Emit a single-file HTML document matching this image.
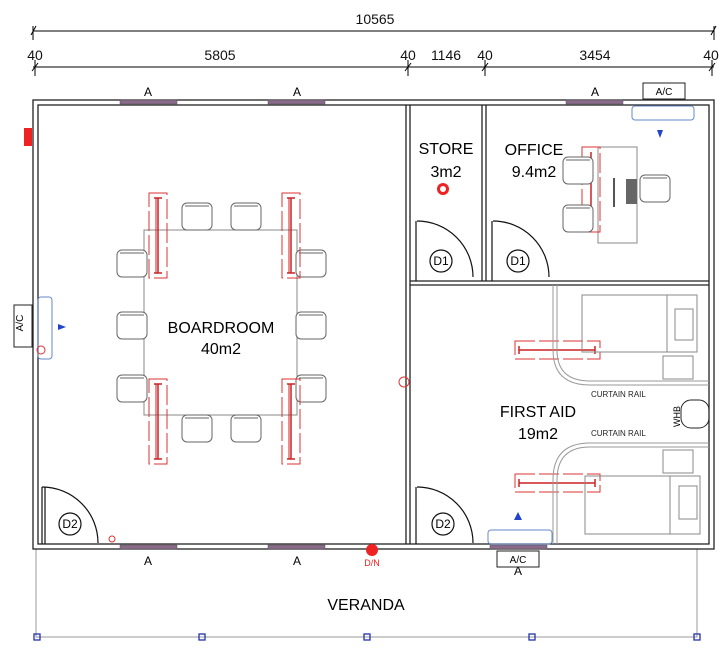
<!DOCTYPE html>
<html><head><meta charset="utf-8"><style>body{margin:0;background:#fff}svg{display:block}text{font-family:"Liberation Sans",sans-serif}</style></head><body>
<svg width="719" height="661" viewBox="0 0 719 661" xmlns="http://www.w3.org/2000/svg">
<defs>
<g id="chair"><rect x="0" y="0" width="30" height="27" rx="5" fill="#fff" stroke="#666" stroke-width="1"/><line x1="3" y1="3" x2="27" y2="3" stroke="#666"/></g>
<g id="redv"><rect x="0" y="0" width="18" height="85" fill="none" stroke="#d33" stroke-width="1" stroke-dasharray="20 4"/><line x1="9" y1="5" x2="9" y2="80" stroke="#c22" stroke-width="1.5"/><line x1="5" y1="5" x2="13" y2="5" stroke="#c22" stroke-width="1.5"/><line x1="5" y1="80" x2="13" y2="80" stroke="#c22" stroke-width="1.5"/><line x1="7" y1="5" x2="7" y2="80" stroke="#c22"/></g>
<g id="redh"><rect x="0" y="0" width="85" height="18" fill="none" stroke="#d33" stroke-width="1" stroke-dasharray="20 4"/><line x1="4" y1="9" x2="80" y2="9" stroke="#c22" stroke-width="1.5"/><line x1="4" y1="5" x2="4" y2="13" stroke="#c22" stroke-width="1.5"/><line x1="80" y1="5" x2="80" y2="13" stroke="#c22" stroke-width="1.5"/></g>
</defs>
<!-- dimensions -->
<g stroke="#000" stroke-width="1">
<line x1="33" y1="31" x2="714" y2="31"/><line x1="31" y1="35" x2="36" y2="26"/><line x1="711" y1="35" x2="716" y2="26"/><line x1="33" y1="26" x2="33" y2="40"/><line x1="714" y1="26" x2="714" y2="40"/>
<line x1="33" y1="67" x2="714" y2="67"/>
<line x1="35" y1="60" x2="35" y2="76"/><line x1="408" y1="60" x2="408" y2="76"/><line x1="485" y1="60" x2="485" y2="76"/><line x1="712" y1="60" x2="712" y2="76"/>
<line x1="32" y1="71" x2="38" y2="63"/><line x1="405" y1="71" x2="411" y2="63"/><line x1="482" y1="71" x2="488" y2="63"/><line x1="709" y1="71" x2="715" y2="63"/>
</g>
<g font-size="14" text-anchor="middle" fill="#111">
<text x="375" y="24">10565</text>
<text x="35" y="60">40</text><text x="220" y="60">5805</text><text x="408" y="60">40</text><text x="446" y="60">1146</text><text x="485" y="60">40</text><text x="595" y="60">3454</text><text x="711" y="60">40</text>
</g>
<!-- veranda -->
<rect x="36" y="549" width="661" height="88" fill="none" stroke="#999" stroke-width="1"/>
<g fill="none" stroke="#2233aa" stroke-width="1.3"><rect x="34" y="634" width="6" height="6"/><rect x="199" y="634" width="6" height="6"/><rect x="364" y="634" width="6" height="6"/><rect x="529" y="634" width="6" height="6"/><rect x="694" y="634" width="6" height="6"/></g>
<text x="366" y="610" font-size="16" text-anchor="middle">VERANDA</text>
<!-- walls -->
<g fill="none" stroke="#222" stroke-width="1.3">
<rect x="33" y="100" width="681" height="449"/><rect x="38" y="105" width="671" height="439"/>
<line x1="406" y1="105" x2="406" y2="544"/><line x1="410" y1="105" x2="410" y2="544"/>
<line x1="482" y1="105" x2="482" y2="281"/><line x1="486" y1="105" x2="486" y2="281"/>
<line x1="410" y1="281" x2="709" y2="281"/><line x1="410" y1="285" x2="709" y2="285"/>
</g>
<!-- windows -->
<g fill="#8a6a8a" stroke="#555" stroke-width="0.5">
<rect x="120" y="100" width="57" height="4"/><rect x="268" y="100" width="57" height="4"/><rect x="566" y="100" width="57" height="4"/>
<rect x="120" y="545" width="57" height="4"/><rect x="268" y="545" width="57" height="4"/><rect x="490" y="545" width="57" height="4"/>
</g>
<g font-size="12" text-anchor="middle"><text x="148" y="96">A</text><text x="297" y="96">A</text><text x="595" y="96">A</text><text x="148" y="565">A</text><text x="297" y="565">A</text><text x="518" y="575">A</text></g>
<!-- A/C units -->
<rect x="643" y="83" width="42" height="16" fill="#fff" stroke="#222"/><text x="664" y="95" font-size="10" text-anchor="middle">A/C</text>
<rect x="632" y="106" width="62" height="14" rx="3" fill="none" stroke="#6688cc"/>
<rect x="497" y="551" width="42" height="16" fill="#fff" stroke="#222"/><text x="518" y="563" font-size="10" text-anchor="middle">A/C</text>
<rect x="488" y="530" width="64" height="14" rx="3" fill="none" stroke="#6688cc"/>
<rect x="14" y="305" width="18" height="42" fill="#fff" stroke="#222"/><text x="26" y="326" font-size="10" text-anchor="middle" transform="rotate(-90 23 326)">A/C</text>
<rect x="38" y="297" width="14" height="62" rx="3" fill="none" stroke="#6688cc"/>
<g fill="#2244cc"><polygon points="58,324 66,327 58,330"/><polygon points="660,138 663,130 657,130" /><polygon points="518,512 514,520 522,520"/></g>
<rect x="24" y="128" width="8" height="18" fill="#e22"/>
<!-- boardroom -->
<rect x="144" y="230" width="153" height="185" fill="none" stroke="#888"/>
<use href="#chair" x="182" y="203"/><use href="#chair" x="231" y="203"/>
<use href="#chair" x="182" y="415"/><use href="#chair" x="231" y="415"/>
<use href="#chair" x="117" y="250"/><use href="#chair" x="117" y="312"/><use href="#chair" x="117" y="375"/>
<use href="#chair" x="296" y="250"/><use href="#chair" x="296" y="312"/><use href="#chair" x="296" y="375"/>
<use href="#redv" x="149" y="193"/><use href="#redv" x="282" y="193"/><use href="#redv" x="149" y="379"/><use href="#redv" x="282" y="379"/>
<text x="221" y="333" font-size="16" text-anchor="middle">BOARDROOM</text><text x="221" y="354" font-size="16" text-anchor="middle">40m2</text>
<!-- doors -->
<g fill="none" stroke="#111" stroke-width="1.2">
<path d="M42 487 A56 56 0 0 1 98 543"/><line x1="42" y1="487" x2="42" y2="544"/><line x1="45" y1="487" x2="45" y2="544"/>
<path d="M417 221 A56 56 0 0 1 473 277"/><line x1="416" y1="221" x2="416" y2="281"/>
<path d="M493 221 A56 56 0 0 1 549 277"/><line x1="492" y1="221" x2="492" y2="281"/>
<path d="M417 487 A56 56 0 0 1 473 543"/><line x1="416" y1="487" x2="416" y2="544"/>
<circle cx="70" cy="524" r="11"/><circle cx="441" cy="261" r="11"/><circle cx="518" cy="261" r="11"/><circle cx="443" cy="524" r="11"/>
</g>
<g font-size="12" text-anchor="middle"><text x="70" y="528">D2</text><text x="441" y="265">D1</text><text x="518" y="265">D1</text><text x="443" y="528">D2</text></g>
<!-- store/office -->
<g font-size="16" text-anchor="middle"><text x="446" y="154">STORE</text><text x="446" y="177">3m2</text><text x="534" y="155">OFFICE</text><text x="534" y="177">9.4m2</text></g>
<circle cx="443" cy="189" r="6" fill="#e22"/><circle cx="443" cy="189" r="3" fill="#fff"/>
<rect x="598" y="147" width="39" height="96" fill="none" stroke="#888"/>
<rect x="582" y="147" width="18" height="85" fill="none" stroke="#d33" stroke-dasharray="20 4"/><line x1="591" y1="152" x2="591" y2="227" stroke="#c22" stroke-width="1.5"/>
<use href="#chair" x="563" y="157" transform=""/><use href="#chair" x="563" y="205"/><use href="#chair" x="640" y="175"/>
<rect x="626" y="179" width="11" height="25" fill="#666"/><line x1="614" y1="178" x2="614" y2="207" stroke="#555" stroke-width="2"/>
<!-- first aid -->
<use href="#redh" x="515" y="341"/><use href="#redh" x="515" y="474"/>
<rect x="582" y="295" width="115" height="57" fill="none" stroke="#888"/><line x1="667" y1="295" x2="667" y2="352" stroke="#888"/><rect x="675" y="309" width="18" height="31" fill="none" stroke="#888"/>
<rect x="663" y="356" width="30" height="23" fill="none" stroke="#888"/>
<rect x="585" y="476" width="115" height="58" fill="none" stroke="#888"/><line x1="670" y1="476" x2="670" y2="534" stroke="#888"/><rect x="679" y="486" width="18" height="33" fill="none" stroke="#888"/>
<rect x="663" y="450" width="30" height="23" fill="none" stroke="#888"/>
<g fill="none" stroke="#999" stroke-width="1"><path d="M553 285 V350 Q553 385 590 385 H709"/><path d="M557 285 V350 Q557 381 590 381 H709"/><path d="M553 544 V480 Q553 443 590 443 H709"/><path d="M557 544 V480 Q557 447 590 447 H709"/></g>
<g font-size="8" fill="#222"><text x="591" y="397">CURTAIN RAIL</text><text x="591" y="436">CURTAIN RAIL</text></g>
<rect x="681" y="400" width="28" height="28" rx="10" fill="none" stroke="#222"/><text x="680" y="427" font-size="9" transform="rotate(-90 680 427)">WHB</text>
<text x="538" y="417" font-size="16" text-anchor="middle">FIRST AID</text><text x="538" y="439" font-size="16" text-anchor="middle">19m2</text>
<circle cx="372" cy="550" r="6" fill="#e22"/><text x="372" y="566" font-size="9" fill="#e22" text-anchor="middle">D/N</text>
<g fill="none" stroke="#d33"><circle cx="404" cy="382" r="5"/><circle cx="41" cy="350" r="4"/><circle cx="112" cy="539" r="3"/></g>
</svg>
</body></html>
